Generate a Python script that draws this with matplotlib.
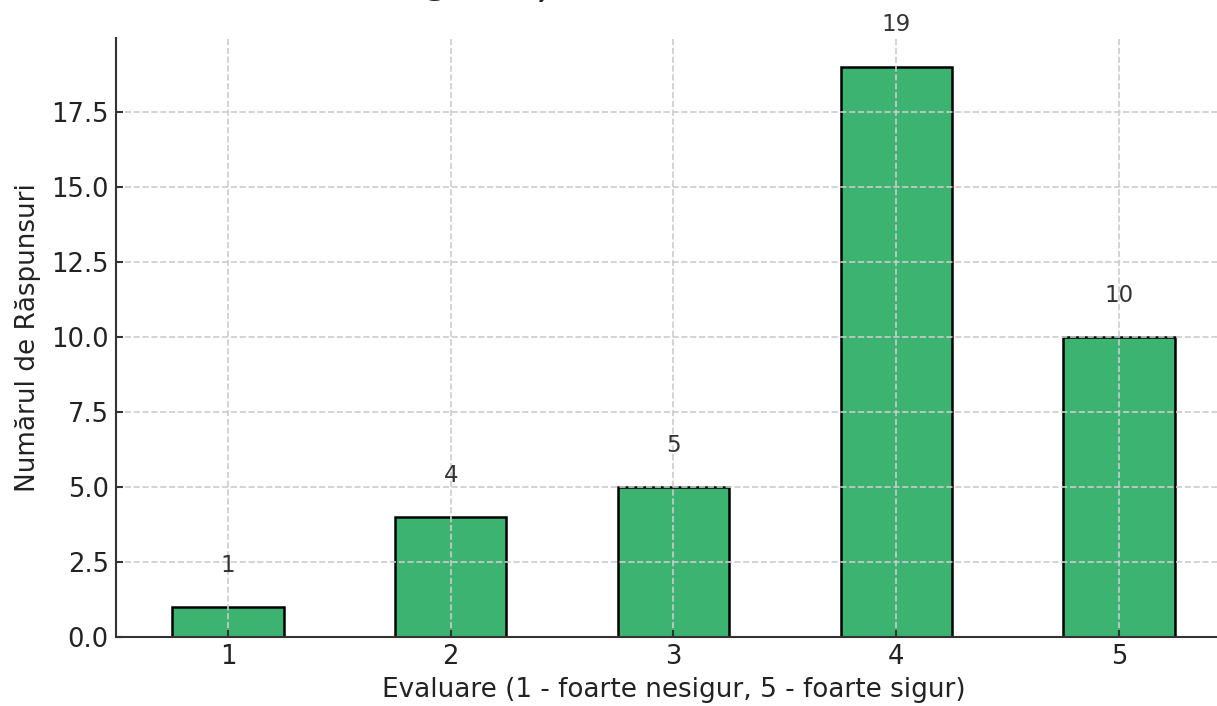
import numpy as np
import matplotlib.pyplot as plt

# ── Data ──────────────────────────────────────────────────────
ratings = [1, 2, 3, 4, 5]
counts  = [1, 4, 5, 19, 10]
tick_labels = ['1', '2', '3', '4', '5']

TITLE_HEAD = "Nivelul de si"
TITLE      = "Nivelul de siguranță în rândul elevilor"
XLABEL = "Evaluare (1 - foarte nesigur, 5 - foarte sigur)"
YLABEL = "Numărul de Răspunsuri"

BAR_COLOR = '#3cb371'
TEXT_DARK = '#333333'

W, H, DPI = 1218, 706, 150

# ── Figure ────────────────────────────────────────────────────
fig = plt.figure(figsize=(W / DPI, H / DPI), dpi=DPI)
# axes run slightly past the right edge of the canvas
ax = fig.add_axes([116 / W, 69 / H, (1231 - 116) / W, 599 / H])

ax.bar(ratings, counts, width=0.5, color=BAR_COLOR,
       edgecolor='black', linewidth=1.2, zorder=1)

for r, c in zip(ratings, counts):
    ax.text(r, c + 1, str(c), ha='center', va='bottom',
            fontsize=11, color=TEXT_DARK)

ax.set_xlim(0.497, 5.503)
ax.set_ylim(0, 19.95)
ax.set_xticks(ratings)
ax.set_xticklabels(tick_labels)
ax.set_yticks(np.arange(0, 19, 2.5))

ax.grid(True, linestyle='--', color='#cccccc', linewidth=0.8, zorder=3)
ax.set_axisbelow(False)

for side in ['top', 'right']:
    ax.spines[side].set_visible(False)
for side in ['left', 'bottom']:
    ax.spines[side].set_color(TEXT_DARK)
    ax.spines[side].set_linewidth(1.0)
    ax.spines[side].set_zorder(4)

ax.tick_params(direction='in', length=3.5, width=1.0, colors=TEXT_DARK,
               labelsize=12.4, labelcolor='#222222')

ax.set_xlabel(XLABEL, fontsize=12.6, color='#222222', labelpad=3)
ax.set_ylabel(YLABEL, fontsize=12.6, color='#222222', labelpad=5)

# title baseline sits just above the canvas, only descenders reach in
title_kw = dict(fontsize=16, fontweight='bold', color='#222222')
renderer = fig.canvas.get_renderer()
probe = fig.text(0, 0, TITLE_HEAD, **title_kw)
head_w = probe.get_window_extent(renderer).width
probe.remove()
fig.text((424 - head_w) / W, 1 + 6 / H, TITLE, ha='left',
         va='baseline', **title_kw)

fig.savefig("out.png", dpi=DPI)
